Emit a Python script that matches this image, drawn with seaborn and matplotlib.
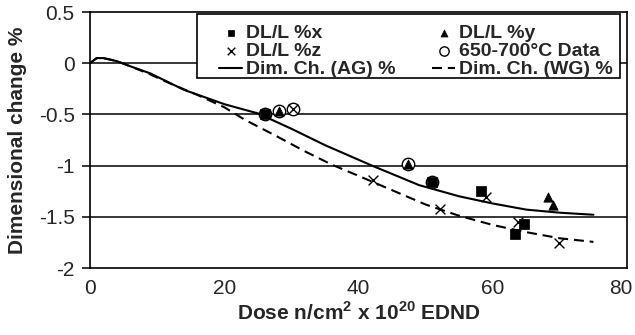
import matplotlib
matplotlib.use("Agg")
import matplotlib.pyplot as plt
import matplotlib.transforms as mtransforms
from matplotlib.patches import Rectangle
import seaborn as sns

# ---- data ----
x_dose = [26.0, 51.0, 58.2, 63.3, 64.6]
x_val = [-0.50, -1.16, -1.25, -1.67, -1.575]
y_dose = [28.1, 47.3, 68.2, 69.0]
y_val = [-0.466, -0.98, -1.31, -1.38]
z_dose = [30.2, 42.2, 52.2, 59.0, 63.8, 69.8]
z_val = [-0.45, -1.136, -1.42, -1.31, -1.55, -1.755]
hot_dose = [26.0, 28.1, 30.2, 47.3, 51.0]
hot_val = [-0.50, -0.466, -0.45, -0.98, -1.16]

ag_dose = [0, 1, 2, 4, 6, 9, 14, 20, 25, 30, 35, 42, 49, 55, 60, 65, 70, 75]
ag_val = [0, 0.05, 0.05, 0.02, -0.03, -0.10, -0.26, -0.40, -0.49, -0.64, -0.80,
          -1.00, -1.19, -1.30, -1.37, -1.43, -1.46, -1.48]
wg_dose = [0, 1, 2, 4, 6, 9, 12, 16, 20, 23, 28, 32, 36, 40, 45, 50, 55, 60, 65, 70, 75]
wg_val = [0, 0.05, 0.05, 0.02, -0.03, -0.11, -0.20, -0.31, -0.43, -0.55, -0.72,
          -0.86, -0.99, -1.10, -1.24, -1.38, -1.49, -1.58, -1.65, -1.71, -1.745]
y_ticks = [0.5, 0, -0.5, -1, -1.5, -2]
y_ticklabels = ['0.5', '0', '-0.5', '-1', '-1.5', '-2']
x_ticks = [0, 20, 40, 60, 80]

sns.set_theme(style="white")
plt.rcParams['font.family'] = ['Liberation Sans', 'DejaVu Sans']
plt.rcParams['mathtext.fontset'] = 'custom'
plt.rcParams['mathtext.rm'] = 'Liberation Sans'
plt.rcParams['mathtext.bf'] = 'Liberation Sans:bold'

fig = plt.figure(figsize=(6.35, 3.35), dpi=100)
ax = fig.add_axes([90 / 635, 1 - 268 / 335, 537 / 635, 256 / 335])

for v in [0, -0.5, -1, -1.5]:
    ax.axhline(v, color='black', lw=1.1, zorder=0)

sns.lineplot(x=ag_dose, y=ag_val, ax=ax, color='black', lw=1.5, sort=False,
             estimator=None, label='Dim. Ch. (AG) %')
sns.lineplot(x=wg_dose, y=wg_val, ax=ax, color='black', lw=1.5, sort=False,
             estimator=None, label='Dim. Ch. (WG) %', linestyle=(0, (4.8, 2.8)))

sns.scatterplot(x=hot_dose, y=hot_val, ax=ax, marker='o', s=80, facecolor='white',
                edgecolor='black', linewidth=1.0, label='650-700°C Data', zorder=3)
sns.scatterplot(x=x_dose, y=x_val, ax=ax, marker='s', s=42, color='black',
                edgecolor='black', label='DL/L %x', zorder=4)
sns.scatterplot(x=y_dose, y=y_val, ax=ax, marker='^', s=45, color='black',
                edgecolor='black', label='DL/L %y', zorder=4)
sns.scatterplot(x=z_dose, y=z_val, ax=ax, marker='x', s=50, color='black',
                linewidth=1.0, label='DL/L %z', zorder=4)

ax.set_xlim(0, 80)
ax.set_ylim(-2, 0.5)
ax.set_xticks(x_ticks)
ax.set_yticks(y_ticks)
ax.set_yticklabels(y_ticklabels)
ax.tick_params(axis='y', direction='out', length=6, width=1.1, color='black',
               labelsize=15, left=True, pad=5)
ax.tick_params(axis='x', length=0, labelsize=15, pad=8)
for sp in ax.spines.values():
    sp.set_color('black')
    sp.set_linewidth(1.2)

# keep the last x tick label inside the figure, as in the reference
last = ax.get_xticklabels()[-1]
last.set_transform(last.get_transform() +
                   mtransforms.ScaledTranslation(-6 / 100, 0, fig.dpi_scale_trans))

ax.set_xlabel('Dose n/cm$^\\mathbf{2}$ x 10$^\\mathbf{20}$ EDND', fontsize=15,
              fontweight='bold', labelpad=2)
ax.set_ylabel('Dimensional change %', fontsize=15, fontweight='bold')
ax.yaxis.set_label_coords(-0.118, 0.5)

# legend box
box = Rectangle(((197 - 90) / 537, (268 - 78) / 256), (620 - 197) / 537, 64 / 256,
                transform=ax.transAxes, facecolor='white', edgecolor='black',
                lw=1.2, zorder=4.9, clip_on=False)
ax.add_patch(box)

h, l = ax.get_legend_handles_labels()
d = dict(zip(l, h))
order = ['DL/L %x', 'DL/L %z', 'Dim. Ch. (AG) %', 'DL/L %y', '650-700°C Data', 'Dim. Ch. (WG) %']
leg = ax.legend([d[k] for k in order], order, ncol=2, loc='upper left',
                bbox_to_anchor=((219 - 90) / 537, (268 - 24) / 256),
                prop={'weight': 'bold', 'size': 14}, frameon=False,
                handlelength=1.2, handletextpad=0.2,
                labelspacing=0.04, borderpad=0, columnspacing=1.86, borderaxespad=0)
leg.set_zorder(5)
sizes = {'DL/L %x': 22, 'DL/L %z': 30, 'DL/L %y': 25, '650-700°C Data': 45}
for txt, hd in zip(leg.get_texts(), leg.legend_handles):
    k = txt.get_text()
    if k in sizes:
        hd.set_sizes([sizes[k]])

fig.savefig('out.png', dpi=100)
